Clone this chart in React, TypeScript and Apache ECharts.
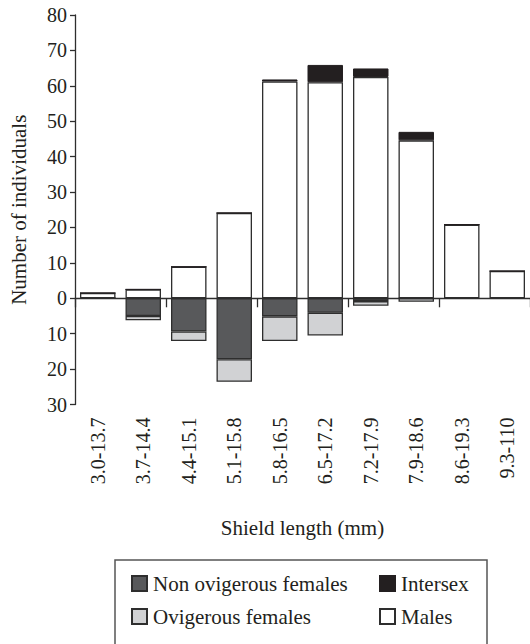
import React, { useEffect, useRef } from "react";
import * as echarts from "echarts";

const categories = [
  "3.0-13.7",
  "3.7-14.4",
  "4.4-15.1",
  "5.1-15.8",
  "5.8-16.5",
  "6.5-17.2",
  "7.2-17.9",
  "7.9-18.6",
  "8.6-19.3",
  "9.3-110",
];
const nonOvigerousFemales = [0, -5, -9.4, -17.2, -5.1, -4.1, -0.8, 0];
const ovigerousFemales = [0, -1.2, -2.7, -6.4, -7, -6.4, -1.3, -1];
const males = [1.5, 2.5, 8.9, 24.1, 61.2, 61, 62.5, 44.6, 20.8, 7.7];
const intersex = [0, 0, 0, 0, 0.6, 4.9, 2.4, 2.4, 0, 0];
const yTicks = { min: -30, max: 80, interval: 10 };

const FONT = "Liberation Serif";
const INK = "#231f20";
const EDGE = "#2e2e2e";

export default function App() {
  const ref = useRef<HTMLDivElement>(null);
  useEffect(() => {
    if (!ref.current) return;
    const chart = echarts.init(ref.current, null, { renderer: "svg" });
    const barBase = {
      type: "bar",
      stack: "all",
      xAxisIndex: 0,
      barCategoryGap: "22%",
    };
    const legendText = { fontFamily: FONT, fontSize: 21, color: INK, padding: [0, 0, 0, 1] };
    const legendBase = {
      orient: "vertical",
      top: 573,
      padding: 0,
      itemWidth: 15,
      itemHeight: 15,
      itemGap: 12,
      icon: "rect",
      textStyle: legendText,
    };
    chart.setOption({
      animation: false,
      textStyle: { fontFamily: FONT, color: INK },
      grid: { left: 71, right: 0, top: 15, bottom: 239.5 },
      legend: [
        { ...legendBase, left: 131, data: ["Non ovigerous females", "Ovigerous females"] },
        { ...legendBase, left: 379, data: ["Intersex", "Males"] },
      ],
      graphic: [
        {
          type: "rect",
          shape: { x: 115, y: 560, width: 372, height: 90 },
          style: { fill: "none", stroke: "#555", lineWidth: 1.5 },
          silent: true,
        },
      ],
      xAxis: [
        {
          type: "category",
          data: categories,
          position: "bottom",
          axisLine: { onZero: true, lineStyle: { color: EDGE, width: 1.3 } },
          axisTick: { show: true, length: 9, lineStyle: { color: EDGE, width: 1.3 } },
          axisLabel: { show: false },
          splitLine: { show: false },
        },
        {
          type: "category",
          data: categories,
          position: "bottom",
          axisLine: { show: false, onZero: false },
          axisTick: { show: false },
          axisLabel: {
            rotate: 90,
            margin: 13,
            fontFamily: FONT,
            fontSize: 20,
            color: INK,
          },
          name: "Shield length (mm)",
          nameLocation: "middle",
          nameGap: 113,
          nameTextStyle: { fontFamily: FONT, fontSize: 21, color: INK },
        },
      ],
      yAxis: {
        type: "value",
        min: yTicks.min,
        max: yTicks.max,
        interval: yTicks.interval,
        axisLine: { show: true, lineStyle: { color: EDGE, width: 1.3 } },
        axisTick: { show: true, length: 5, lineStyle: { color: EDGE, width: 1.3 } },
        axisLabel: {
          margin: 8,
          fontFamily: FONT,
          fontSize: 20,
          color: INK,
          formatter: (v: number) => String(Math.abs(v)),
        },
        splitLine: { show: false },
        name: "Number of individuals",
        nameLocation: "middle",
        nameGap: 46,
        nameTextStyle: { fontFamily: FONT, fontSize: 21, color: INK },
      },
      series: [
        {
          ...barBase,
          name: "Non ovigerous females",
          data: nonOvigerousFemales,
          itemStyle: { color: "#58595b", borderColor: EDGE, borderWidth: 1.3 },
        },
        {
          ...barBase,
          name: "Ovigerous females",
          data: ovigerousFemales,
          itemStyle: { color: "#d1d2d4", borderColor: EDGE, borderWidth: 1.3 },
        },
        {
          ...barBase,
          name: "Males",
          data: males,
          itemStyle: { color: "#ffffff", borderColor: EDGE, borderWidth: 1.3 },
        },
        {
          ...barBase,
          name: "Intersex",
          data: intersex,
          itemStyle: { color: INK, borderColor: INK, borderWidth: 1 },
        },
      ],
    });
    return () => chart.dispose();
  }, []);
  return (
    <div
      ref={ref}
      style={{ position: "fixed", left: 0, top: 0, width: 530, height: 644, background: "#fff" }}
    />
  );
}
